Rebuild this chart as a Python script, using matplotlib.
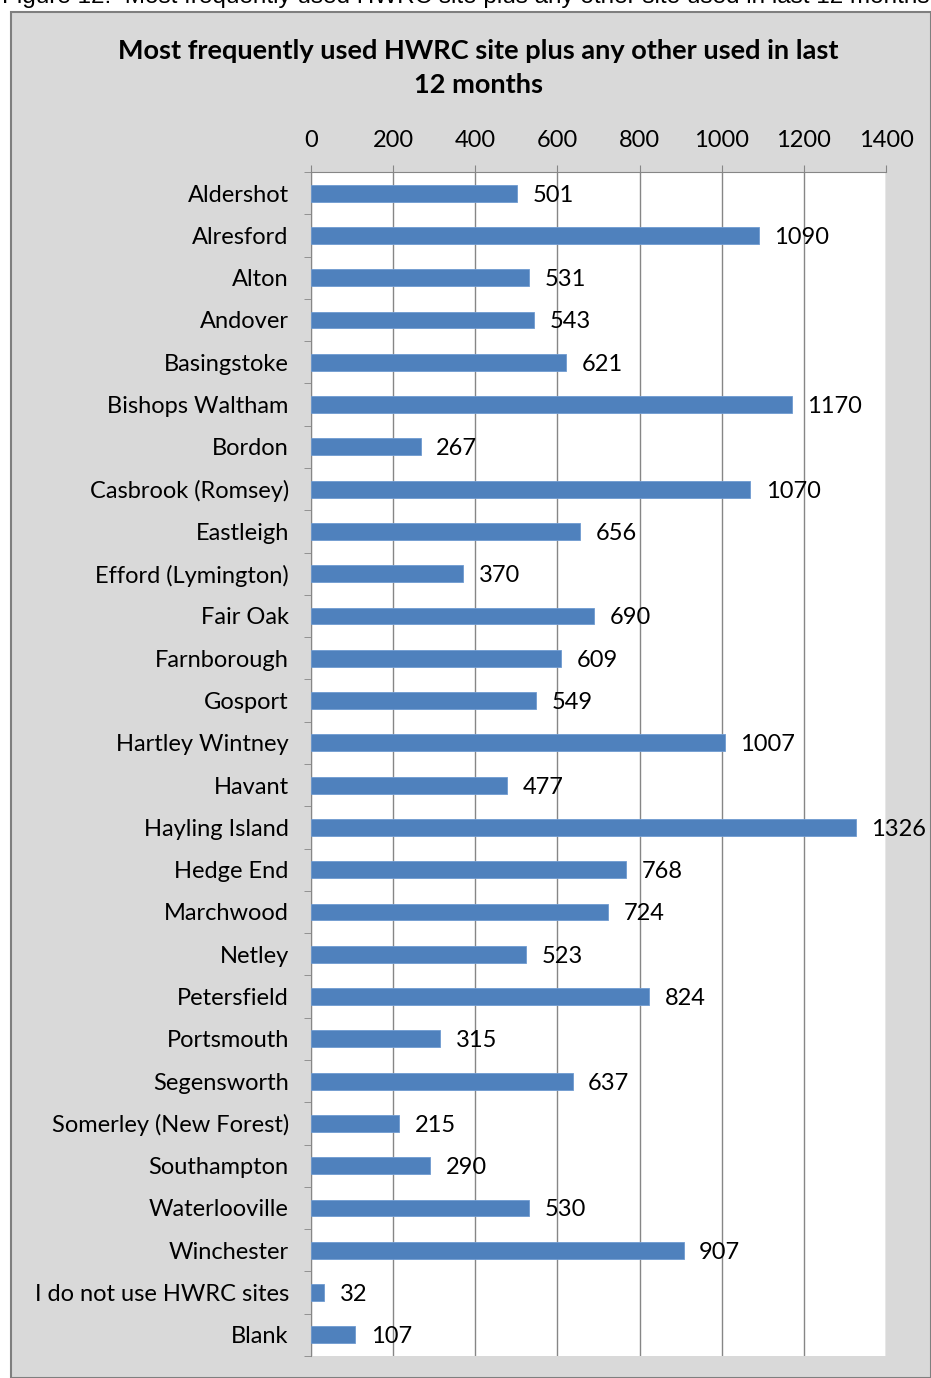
import matplotlib.pyplot as plt
from matplotlib.patches import Rectangle
import numpy as np

sites = ["Aldershot", "Alresford", "Alton", "Andover", "Basingstoke", "Bishops Waltham",
         "Bordon", "Casbrook (Romsey)", "Eastleigh", "Efford (Lymington)", "Fair Oak",
         "Farnborough", "Gosport", "Hartley Wintney", "Havant", "Hayling Island",
         "Hedge End", "Marchwood", "Netley", "Petersfield", "Portsmouth", "Segensworth",
         "Somerley (New Forest)", "Southampton", "Waterlooville", "Winchester",
         "I do not use HWRC sites", "Blank"]
counts = [501, 1090, 531, 543, 621, 1170, 267, 1070, 656, 370, 690, 609, 549, 1007,
          477, 1326, 768, 724, 523, 824, 315, 637, 215, 290, 530, 907, 32, 107]
xticks = [0, 200, 400, 600, 800, 1000, 1200, 1400]

W, H = 931, 1378
fs = 17
fig = plt.figure(figsize=(W / 100, H / 100), dpi=100)
fig.patch.set_facecolor("white")

# grey chart area with border
fig.patches.append(Rectangle((11 / W, 0), 1 - 11 / W, 1 - 12 / H, transform=fig.transFigure,
                             facecolor="#d9d9d9", edgecolor="#7f7f7f", linewidth=1.5, zorder=-5))

# cut-off caption at the very top
fig.text(2 / W, 1 + 3 / H, "Figure 12:  Most frequently used HWRC site plus any other site used in last 12 months",
         fontsize=17.5, family="Liberation Sans", va="center", ha="left")

ax = fig.add_axes([311 / W, 1 - 1356 / H, 575 / W, (1356 - 172) / H])
ax.set_zorder(2)
ax.set_facecolor("white")
y = np.arange(len(sites))
ax.barh(y, counts, height=0.4, color="#4f81bd", edgecolor="#6f9bd1", linewidth=0.6, zorder=3)
ax.set_ylim(len(sites) - 0.5, -0.5)
ax.set_xlim(0, 1400)
ax.set_xticks(xticks)
ax.xaxis.tick_top()
ax.grid(axis="x", color="#868686", linewidth=1, zorder=0)
ax.set_yticks(y)
ax.set_yticklabels(sites, family="Lato", fontsize=fs)
ax.set_yticks(np.arange(len(sites) + 1) - 0.5, minor=True)
ax.tick_params(axis="y", which="major", length=0, pad=16)
ax.tick_params(axis="y", which="minor", length=5, color="#868686")
ax.tick_params(axis="x", length=5, color="#868686", labelsize=fs, pad=10)
for lab in ax.get_xticklabels():
    lab.set_family("Lato")
for s in ["right", "bottom"]:
    ax.spines[s].set_visible(False)
ax.spines["left"].set_color("#868686")
ax.spines["top"].set_color("#868686")

for yi, v in zip(y, counts):
    ax.text(v + 38, yi, str(v), va="center_baseline", ha="left", fontsize=fs, family="Lato", color="black")

fig.text(478 / W, 1 - 68 / H, "Most frequently used HWRC site plus any other used in last\n12 months",
         ha="center", va="center", fontsize=19.5, fontweight="bold", family="Lato", linespacing=1.5)

fig.savefig("out.png", dpi=100, facecolor=fig.get_facecolor())
